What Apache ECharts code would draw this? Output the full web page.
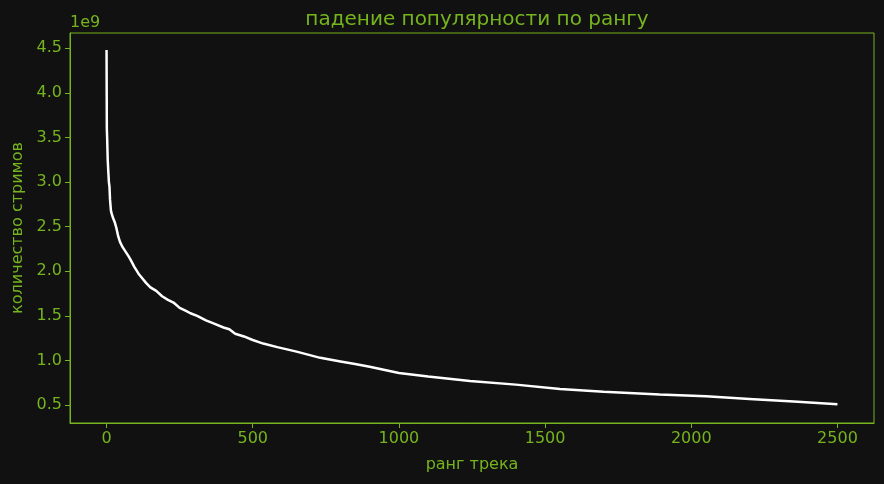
<!DOCTYPE html>
<html>
<head>
<meta charset="utf-8">
<script src="https://cdn.jsdelivr.net/npm/echarts@6/dist/echarts.min.js"></script>
<style>
  html, body { margin: 0; padding: 0; background: #111111; }
  #chart { width: 884px; height: 484px; }
</style>
</head>
<body>
<div id="chart"></div>
<script>
// ранг трека (x) и количество стримов, в единицах 1e9 (y)
const ranks = [0, 1, 2, 4, 6, 8, 10, 12, 15, 18, 22, 28, 34, 40, 46, 55, 65, 75, 82, 95,
  110, 120, 135, 150, 170, 190, 210, 229, 250, 270, 287, 310, 340, 370, 400, 420, 440,
  470, 500, 536, 584, 650, 731, 800, 850, 900, 1000, 1100, 1243, 1400, 1551, 1700,
  1892, 2050, 2199, 2350, 2500]
const streams = [4.48, 3.60, 3.50, 3.25, 3.12, 3.00, 2.95, 2.80, 2.68, 2.64, 2.60, 2.55,
  2.48, 2.39, 2.33, 2.27, 2.22, 2.17, 2.13, 2.05, 1.97, 1.93, 1.87, 1.82, 1.78, 1.72,
  1.68, 1.65, 1.59, 1.56, 1.53, 1.50, 1.45, 1.41, 1.37, 1.35, 1.30, 1.27, 1.23, 1.19,
  1.15, 1.10, 1.03, 0.99, 0.96, 0.93, 0.86, 0.82, 0.77, 0.73, 0.68, 0.65, 0.62, 0.60,
  0.57, 0.54, 0.51]
const xTicks = [0, 500, 1000, 1500, 2000, 2500]
const yTicks = [0.5, 1.0, 1.5, 2.0, 2.5, 3.0, 3.5, 4.0, 4.5]

const green = '#76b41e'
const font = 'DejaVu Sans'

const chart = echarts.init(document.getElementById('chart'))

chart.setOption({
  backgroundColor: '#111111',
  animation: false,
  textStyle: { fontFamily: font },
  title: {
    text: 'падение популярности по рангу',
    left: 472,
    textAlign: 'center',
    top: 5,
    textStyle: { color: green, fontSize: 20, fontWeight: 'normal', fontFamily: font }
  },
  grid: {
    left: 70, right: 10, top: 33, bottom: 61,
    show: true,
    borderColor: green,
    borderWidth: 1,
    backgroundColor: '#111111'
  },
  xAxis: {
    type: 'value',
    min: -125,
    max: 2625,
    name: 'ранг трека',
    nameLocation: 'middle',
    nameGap: 34,
    nameTextStyle: { color: green, fontSize: 16, fontFamily: font },
    axisLine: { show: true, onZero: false, lineStyle: { color: green } },
    axisTick: { show: true, length: 5, lineStyle: { color: green }, customValues: xTicks },
    axisLabel: {
      color: green, fontSize: 16, margin: 8, fontFamily: font, customValues: xTicks,
      formatter: v => String(v)
    },
    splitLine: { show: false }
  },
  yAxis: {
    type: 'value',
    min: 0.30,
    max: 4.67,
    name: 'количество стримов',
    nameLocation: 'middle',
    nameGap: 43,
    nameRotate: 90,
    nameTextStyle: { color: green, fontSize: 16, fontFamily: font },
    axisLine: { show: true, onZero: false, lineStyle: { color: green } },
    axisTick: { show: true, length: 5, lineStyle: { color: green }, customValues: yTicks },
    axisLabel: {
      color: green, fontSize: 16, margin: 8, fontFamily: font, customValues: yTicks,
      formatter: v => v.toFixed(1)
    },
    splitLine: { show: false }
  },
  graphic: [{
    type: 'text',
    left: 70,
    top: 15,
    style: { text: '1e9', fill: green, fontSize: 16, fontFamily: font }
  }],
  series: [{
    type: 'line',
    data: ranks.map((r, i) => [r, streams[i]]),
    showSymbol: false,
    lineStyle: { color: '#ffffff', width: 2.5 },
    itemStyle: { color: '#ffffff' }
  }]
})
</script>
</body>
</html>
